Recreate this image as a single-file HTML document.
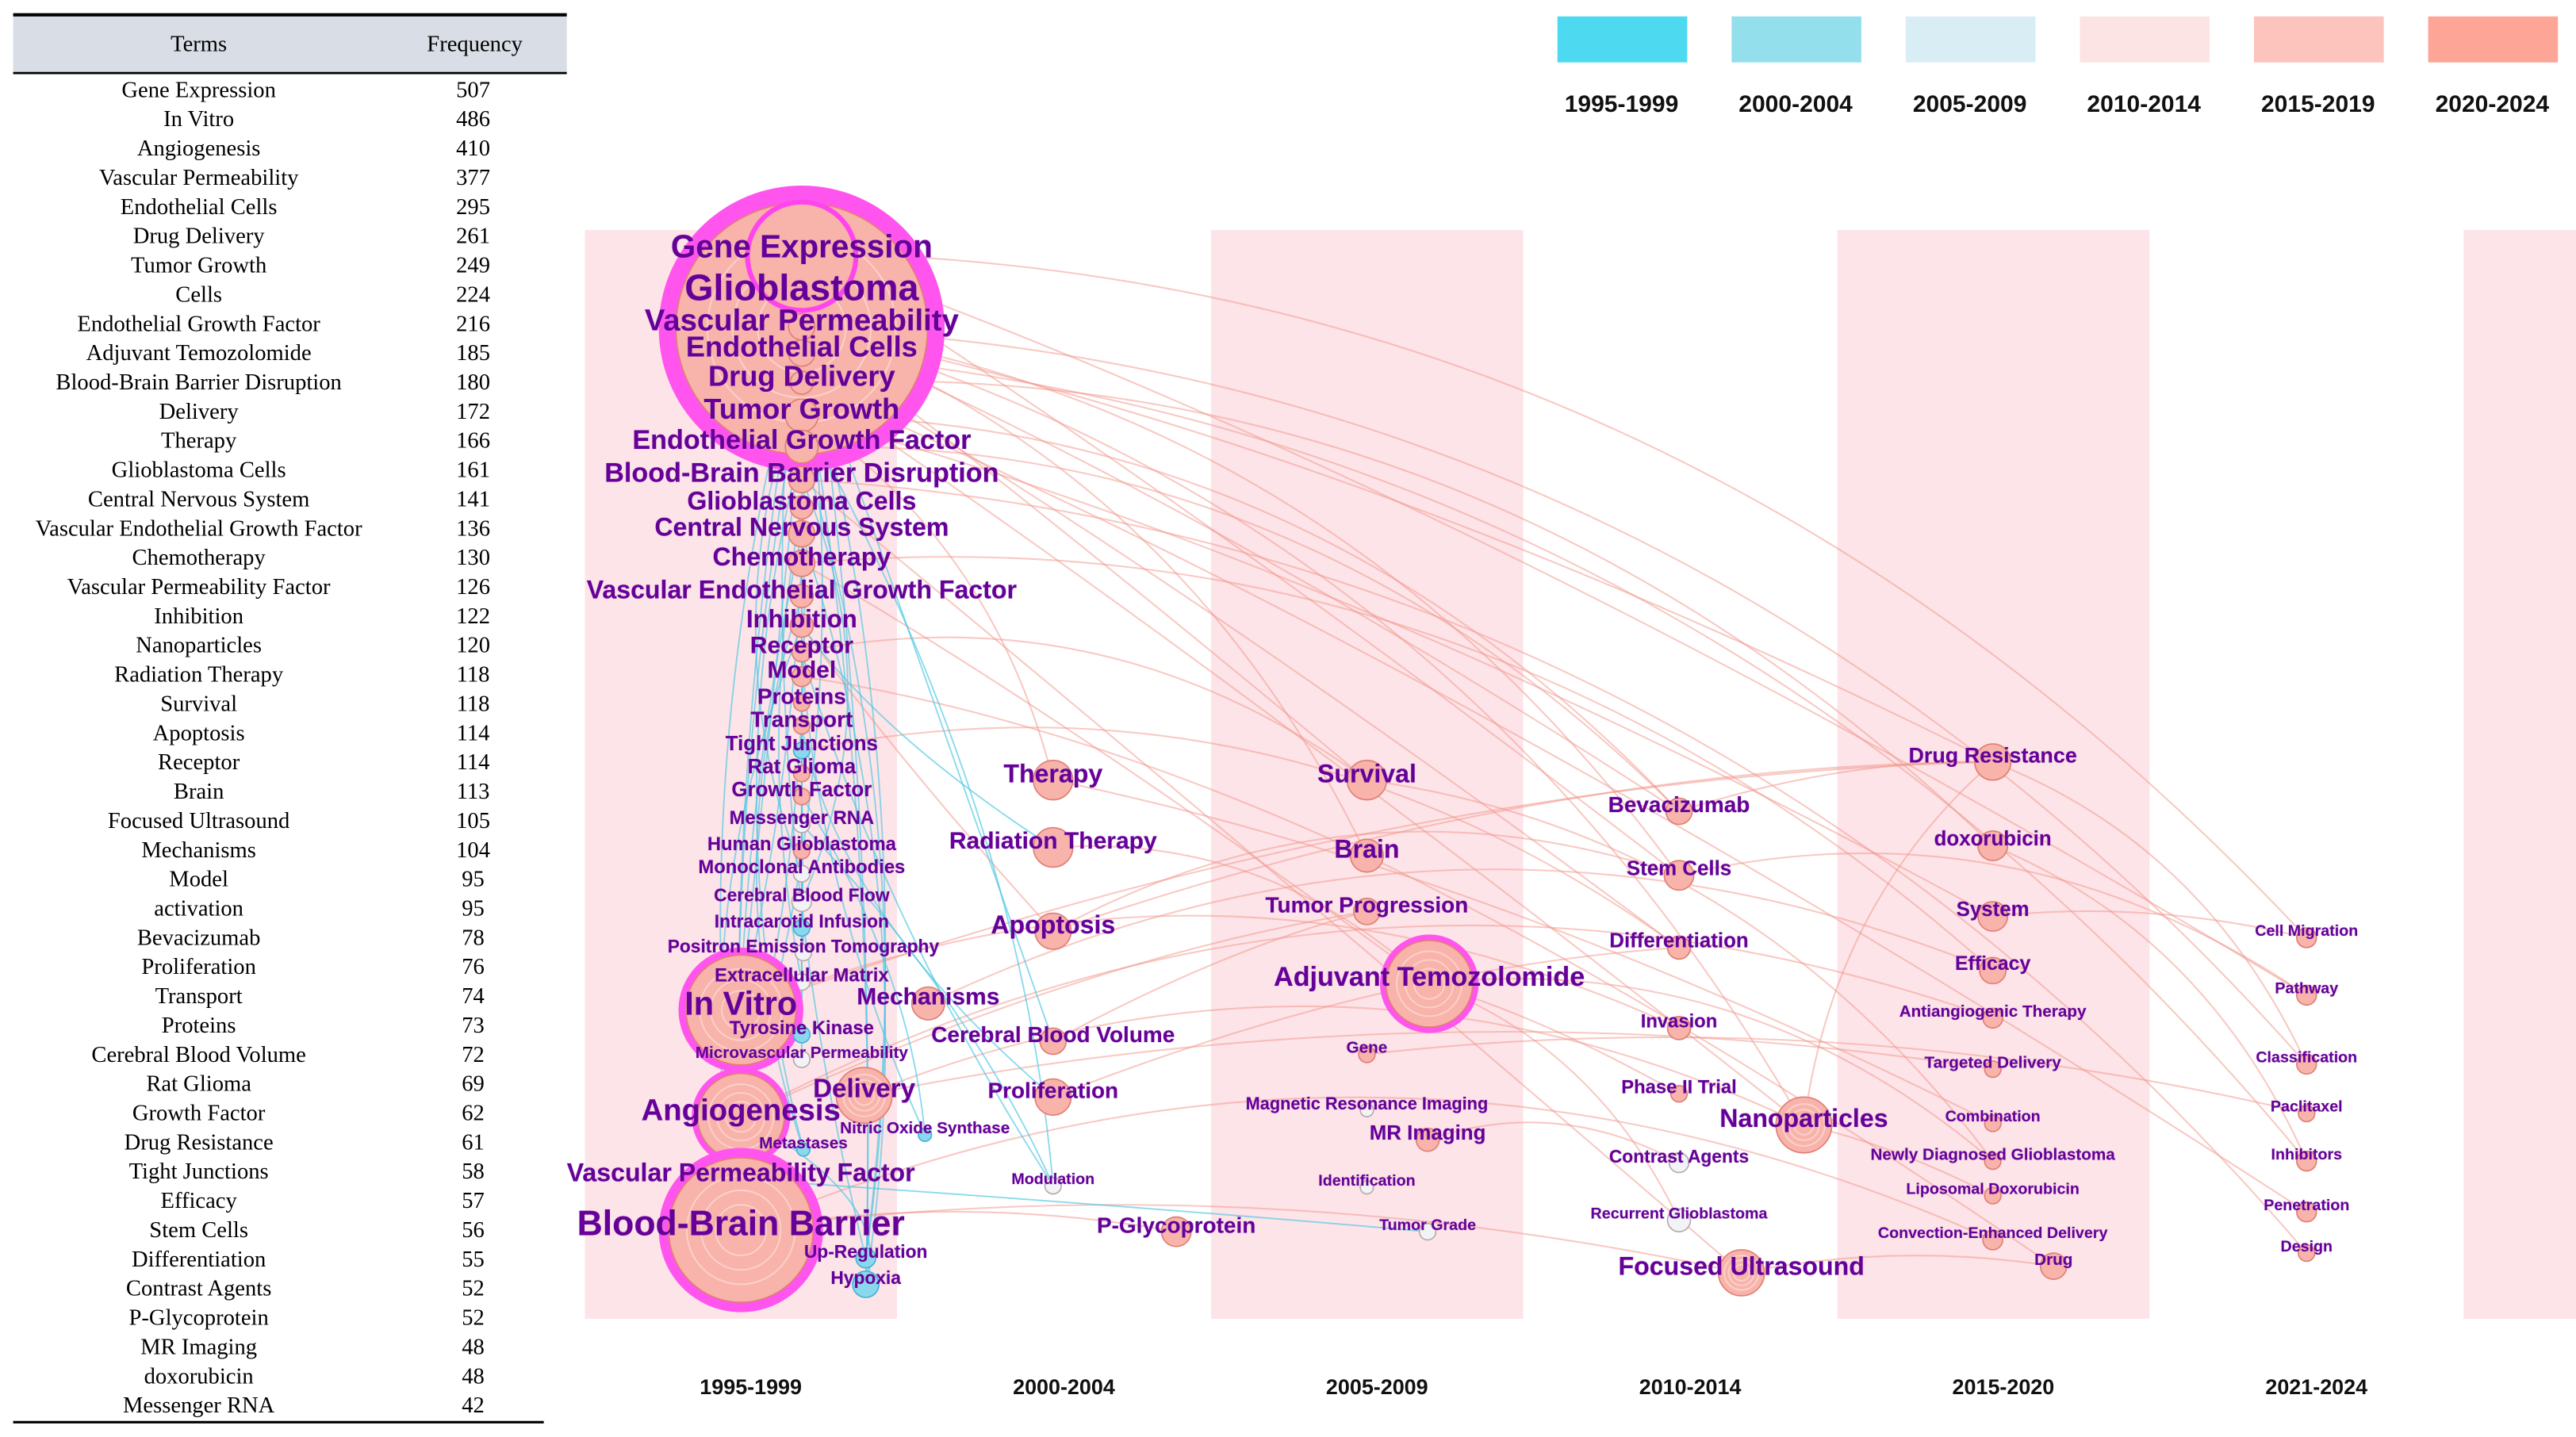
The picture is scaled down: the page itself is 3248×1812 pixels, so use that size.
<!DOCTYPE html>
<html><head><meta charset="utf-8"><title>Keyword timeline</title>
<style>
html,body{margin:0;padding:0;background:#fff;}
svg{display:block;}
.lbl{font-family:"Liberation Sans",sans-serif;font-weight:bold;fill:#660099;text-anchor:middle;dominant-baseline:central;paint-order:stroke;stroke:rgba(180,150,200,0.35);stroke-width:0.6px;}
.tb{font-family:"Liberation Serif",serif;font-size:13.8px;fill:#000;text-anchor:middle;dominant-baseline:central;}
.leg{font-family:"Liberation Sans",sans-serif;font-weight:bold;font-size:14.5px;fill:#111;text-anchor:middle;}
.xl{font-family:"Liberation Sans",sans-serif;font-weight:bold;font-size:13px;fill:#111;text-anchor:middle;}
</style></head>
<body>
<svg id="chart" width="3248" height="1812" viewBox="0 0 1568 875" preserveAspectRatio="none" xmlns="http://www.w3.org/2000/svg">
<g id="table"></g>
<g id="legend"></g>
<g id="bands"></g>
<g id="edges"></g>
<g id="nodes"></g>
<g id="labels"></g>
<g id="xaxis"></g>
</svg>
<script>
const terms=["Gene Expression","In Vitro","Angiogenesis","Vascular Permeability","Endothelial Cells","Drug Delivery","Tumor Growth","Cells","Endothelial Growth Factor","Adjuvant Temozolomide","Blood-Brain Barrier Disruption","Delivery","Therapy","Glioblastoma Cells","Central Nervous System","Vascular Endothelial Growth Factor","Chemotherapy","Vascular Permeability Factor","Inhibition","Nanoparticles","Radiation Therapy","Survival","Apoptosis","Receptor","Brain","Focused Ultrasound","Mechanisms","Model","activation","Bevacizumab","Proliferation","Transport","Proteins","Cerebral Blood Volume","Rat Glioma","Growth Factor","Drug Resistance","Tight Junctions","Efficacy","Stem Cells","Differentiation","Contrast Agents","P-Glycoprotein","MR Imaging","doxorubicin","Messenger RNA"];
const freqs=[507,486,410,377,295,261,249,224,216,185,180,172,166,161,141,136,130,126,122,120,118,118,114,114,113,105,104,95,95,78,76,74,73,72,69,62,61,58,57,56,55,52,52,48,48,42];
const periods=["1995-1999","2000-2004","2005-2009","2010-2014","2015-2020","2021-2024"];
const legendLabels=["1995-1999","2000-2004","2005-2009","2010-2014","2015-2019","2020-2024"];
const legendColors=["#4dd9f0","#94dfec","#d8eef4","#fce4e4","#fdc3bd","#fda597"];
const nodeNames=["Gene Expression","Glioblastoma","Vascular Permeability","Endothelial Cells","Drug Delivery","Tumor Growth","Endothelial Growth Factor","Blood-Brain Barrier Disruption","Glioblastoma Cells","Central Nervous System","Chemotherapy","Vascular Endothelial Growth Factor","Inhibition","Receptor","Model","Proteins","Transport","Tight Junctions","Rat Glioma","Growth Factor","Messenger RNA","Human Glioblastoma","Monoclonal Antibodies","Cerebral Blood Flow","Intracarotid Infusion","Positron Emission Tomography","Extracellular Matrix","In Vitro","Tyrosine Kinase","Microvascular Permeability","Delivery","Angiogenesis","Nitric Oxide Synthase","Metastases","Vascular Permeability Factor","Blood-Brain Barrier","Up-Regulation","Hypoxia","Mechanisms",
"Therapy","Radiation Therapy","Apoptosis","Cerebral Blood Volume","Proliferation","Modulation","P-Glycoprotein",
"Survival","Brain","Tumor Progression","Adjuvant Temozolomide","Gene","Magnetic Resonance Imaging","MR Imaging","Identification","Tumor Grade",
"Bevacizumab","Stem Cells","Differentiation","Invasion","Phase II Trial","Nanoparticles","Contrast Agents","Recurrent Glioblastoma","Focused Ultrasound",
"Drug Resistance","doxorubicin","System","Efficacy","Antiangiogenic Therapy","Targeted Delivery","Combination","Newly Diagnosed Glioblastoma","Liposomal Doxorubicin","Convection-Enhanced Delivery","Drug",
"Cell Migration","Pathway","Classification","Paclitaxel","Inhibitors","Penetration","Design"];
const nodeX=[488,488,488,488,488,488,488,488,488,488,488,488,488,488,488,488,488,488,488,488,488,488,488,488,488,489,488,451,488,488,526,451,563,489,451,451,527,527,565,
641,641,641,641,641,641,716,
832,832,832,870,832,832,869,832,869,
1022,1022,1022,1022,1022,1098,1022,1022,1060,
1213,1213,1213,1213,1213,1213,1213,1213,1213,1213,1250,
1404,1404,1404,1404,1404,1404,1404];
const nodeY=[150,175,195,211,229,249,268,288,305,321,339,359,377,393,408,424,438,453,467,481,498,514,528,545,561,576,594,611,626,641,663,676,687,696,714,745,762,778,607,
471,512,563,630,664,718,746,
471,517,551,595,638,672,690,719,746,
490,529,573,622,662,681,704,739,771,
460,511,554,587,616,647,680,703,724,751,767,
567,602,644,674,703,734,759];
const nodeR=[33,87,8,8,7,10,10,8,7,8,8,7,7,6,6,5,5,5,5,5,5,5,5,6,5,5,5,38,5,5,17,30,4,4,12,50,6,8,10,
12,12,11,8,11,5,9,
12,10,8,30,5,4,7,4,5,
8,9,7,7,5,17,6,7,14,
11,9,9,8,6,5,5,5,5,6,8,
6,6,6,5,6,6,5];
const nodeFont=[19.5,22.5,18.5,17.5,17.5,17.5,16.5,16.5,15.5,15.5,15.5,15.5,15,14.5,14.5,13.5,13.5,12.5,12.5,12.5,11.5,11.5,11.5,11,11,11,11.5,20,11.5,10,16,18.5,10,10,15.5,21.5,11,11,14.5,
15.5,14.5,15.5,13.5,13.5,9.5,13.5,
15.5,15.5,13.5,16.5,10,10.5,12.5,9.5,9.5,
13.5,12.5,12.5,11.5,11.5,15.5,11,9.5,15.5,
13,12.5,12.5,12,10,10,9.5,10,9.5,9.5,10,
9.5,9.5,9.5,9.5,9.5,9.5,9.5];
const nodeType=["m","m","r","r","r","r","r","r","r","r","r","r","r","r","r","r","r","b","r","r","w","r","w","w","b","w","w","m","b","w","r","m","b","b","m","m","b","b","r",
"r","r","r","r","r","w","r",
"r","r","r","m","r","w","r","w","w",
"r","r","r","r","r","r","w","w","r",
"r","r","r","r","r","r","r","r","r","r","r",
"r","r","r","r","r","r","r"];
const edgePairs=[["Glioblastoma","Drug Resistance"],["Glioblastoma","Stem Cells"],["Glioblastoma","Bevacizumab"],["Gene Expression","Cell Migration"],["Gene Expression","Pathway"],["Glioblastoma","Classification"],["Vascular Permeability","Survival"],["Endothelial Cells","Inhibitors"],["Drug Delivery","Nanoparticles"],["Drug Delivery","doxorubicin"],["Drug Delivery","Penetration"],["Tumor Growth","Therapy"],["Tumor Growth","System"],["Endothelial Growth Factor","Bevacizumab"],["Blood-Brain Barrier Disruption","Focused Ultrasound"],["Blood-Brain Barrier Disruption","Design"],["Chemotherapy","Adjuvant Temozolomide"],["Chemotherapy","Efficacy"],["Inhibition","Apoptosis"],["Receptor","Survival"],["Model","Brain"],["Tight Junctions","Differentiation"],["In Vitro","Drug Resistance"],["In Vitro","Invasion"],["Angiogenesis","Tumor Progression"],["Angiogenesis","Antiangiogenic Therapy"],["Delivery","Targeted Delivery"],["Delivery","Nanoparticles"],["Blood-Brain Barrier","Focused Ultrasound"],["Blood-Brain Barrier","Convection-Enhanced Delivery"],["Blood-Brain Barrier","P-Glycoprotein"],["Mechanisms","Efficacy"],["Therapy","Combination"],["Radiation Therapy","Adjuvant Temozolomide"],["Apoptosis","Drug Resistance"],["Apoptosis","Stem Cells"],["Proliferation","Differentiation"],["Survival","Newly Diagnosed Glioblastoma"],["Brain","Drug"],["Adjuvant Temozolomide","Recurrent Glioblastoma"],["Adjuvant Temozolomide","Phase II Trial"],["Adjuvant Temozolomide","Newly Diagnosed Glioblastoma"],["Gene","Paclitaxel"],["MR Imaging","Contrast Agents"],["Bevacizumab","Drug Resistance"],["Stem Cells","Pathway"],["Nanoparticles","Liposomal Doxorubicin"],["Nanoparticles","Drug Resistance"],["Focused Ultrasound","Drug"],["doxorubicin","Inhibitors"],["System","Cell Migration"],["Drug Resistance","Classification"],["Cerebral Blood Volume","Tumor Progression"],["Glioblastoma","Nanoparticles"],["Gene Expression","Stem Cells"],["Vascular Permeability","Brain"],["Endothelial Cells","Differentiation"],["Tumor Growth","Bevacizumab"],
["Glioblastoma","In Vitro"],["Glioblastoma","Angiogenesis"],["Glioblastoma","Blood-Brain Barrier"],["Vascular Permeability","Vascular Permeability Factor"],["Endothelial Cells","Tyrosine Kinase"],["Endothelial Cells","Hypoxia"],["Endothelial Growth Factor","Up-Regulation"],["Vascular Endothelial Growth Factor","Metastases"],["Central Nervous System","Blood-Brain Barrier"],["Chemotherapy","Intracarotid Infusion"],["Growth Factor","Nitric Oxide Synthase"],["Tumor Growth","Modulation"],["Gene Expression","Up-Regulation"],["Receptor","Modulation"],["Vascular Permeability","Cerebral Blood Volume"],["Messenger RNA","Modulation"],["Blood-Brain Barrier Disruption","Cerebral Blood Flow"],["Transport","Proliferation"],["Inhibition","Radiation Therapy"],["Rat Glioma","Positron Emission Tomography"],["Vascular Permeability Factor","Tumor Grade"],["Angiogenesis","Hypoxia"],["Drug Delivery","Monoclonal Antibodies"],["Glioblastoma Cells","Extracellular Matrix"],["Proteins","Microvascular Permeability"],["Gene Expression","Hypoxia"],["Vascular Permeability","Up-Regulation"],["Endothelial Growth Factor","Metastases"],["Drug Delivery","Vascular Permeability Factor"],["Tumor Growth","In Vitro"],["Glioblastoma Cells","Angiogenesis"],["Central Nervous System","Hypoxia"],["Inhibition","Blood-Brain Barrier"],["Receptor","Nitric Oxide Synthase"]];
const earlyCount=58;

const NS="http://www.w3.org/2000/svg";
function mk(tag,attrs,parent){const e=document.createElementNS(NS,tag);for(const k in attrs)e.setAttribute(k,attrs[k]);parent.appendChild(e);return e;}
function xPeriod(i){return 451+i*190.6;}

const T=document.getElementById('table');
let r=mk('rect',{x:8,y:9,width:337,height:35,fill:'#d9dde6'},T);

let l=mk('line',{x1:8,x2:345,y1:9,y2:9,stroke:'#000','stroke-width':2},T);

l=mk('line',{x1:8,x2:345,y1:44.5,y2:44.5,stroke:'#000','stroke-width':1.3},T);

l=mk('line',{x1:8,x2:331,y1:866,y2:866,stroke:'#000','stroke-width':1.5},T);

let t=mk('text',{x:121,y:27,class:'tb','font-size':15.5},T);t.textContent='Terms';

t=mk('text',{x:289,y:27,class:'tb','font-size':15.5},T);t.textContent='Frequency';

terms.forEach((s,i)=>{const y=55+i*17.8;
 const a=mk('text',{x:121,y:y,class:'tb'},T);a.textContent=s;
 
 const b=mk('text',{x:288,y:y,class:'tb'},T);b.textContent=freqs[i];
 });

const L=document.getElementById('legend');
legendLabels.forEach((s,i)=>{const x=948+i*106;
 const b=mk('rect',{x:x,y:10,width:79,height:28,fill:legendColors[i]},L);
 
 const tx=mk('text',{x:x+39,y:68,class:'leg'},L);tx.textContent=s;
 });

const B=document.getElementById('bands'),X=document.getElementById('xaxis');
[0,2,4,6].forEach(i=>{const x0=xPeriod(i)-95;const w=Math.min(190,1568-x0);
 const b=mk('rect',{x:x0,y:140,width:w,height:663,fill:'#fde4e8'},B);
 });
periods.forEach((p,i)=>{const tx=mk('text',{x:xPeriod(i)+6,y:849,class:'xl'},X);tx.textContent=p;
 });

function nodeCY(i){return nodeNames[i]==='Glioblastoma'?200:nodeY[i]+4;}

const E=document.getElementById('edges');
const idx={};nodeNames.forEach((n,i)=>idx[n]=i);
edgePairs.forEach((pr,k)=>{const a=idx[pr[0]],b=idx[pr[1]];
 const x1=nodeX[a],y1=nodeCY(a),x2=nodeX[b],y2=nodeCY(b);
 const dx=x2-x1,dy=y2-y1;
 let cx,cy;
 if(k<earlyCount){const bow=0.18*(k%2?1:-0.6);cx=(x1+x2)/2+dy*bow;cy=(y1+y2)/2-Math.abs(dx)*0.22*(k%2?1:0.4);}
 else{cx=(x1+x2)/2+((k%5)-2)*28;cy=(y1+y2)/2;}
 const p=mk('path',{d:`M${x1},${y1} Q${cx},${cy} ${x2},${y2}`,fill:'none',stroke:k<earlyCount?'#f19488':'#4cc6e2','stroke-width':k<earlyCount?1:0.9,opacity:k<earlyCount?0.5:0.65},E);
 });

const N=document.getElementById('nodes'),LB=document.getElementById('labels');
nodeNames.forEach((n,i)=>{const x=nodeX[i],y=nodeCY(i),rr=nodeR[i],ty=nodeType[i];
 const g=mk('g',{},N);
 
 
 if(ty==='m'){const c=mk('circle',{cx:x,cy:y,r:rr,fill:'#ff55ee'},g);}
 const inner=ty==='m'?rr*0.88:rr;
 const fill=ty==='b'?'#8ad8ee':ty==='w'?'#f1f3f6':'#f8b3aa';
 const st=ty==='b'?'#3fb5d6':ty==='w'?'#b9a9ab':'#e07f74';
 const c=mk('circle',{cx:x,cy:y,r:inner,fill:fill,stroke:st,'stroke-width':0.8},g);
 
 if(inner>12){for(let f=0.75;f>0.2;f-=0.2){const cc=mk('circle',{cx:x,cy:y,r:inner*f,fill:'none',stroke:'#fbd0ca','stroke-width':1},g);
  }}
 const tx=mk('text',{x:x,y:nodeY[i],class:'lbl','font-size':nodeFont[i]},LB);tx.textContent=n;
 });
const ge=mk('circle',{cx:488,cy:156,r:33,fill:'#f8b3aa',stroke:'#ff44ee','stroke-width':3},N);

N.insertBefore(ge,N.children[2]);
</script>
</body></html>
